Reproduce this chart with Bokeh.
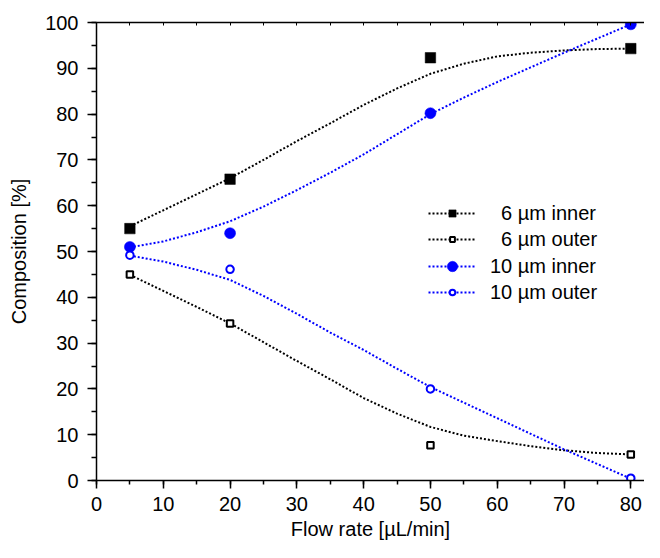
from bokeh.plotting import figure
from bokeh.models import (LinearAxis, SingleIntervalTicker, Legend, LegendItem,
                          Range1d, CustomJSTickFormatter)
from bokeh.embed import file_html
from bokeh.resources import INLINE

# ---- data ----
flow = [5, 20, 50, 80]
inner6 = [55.0, 65.8, 92.3, 94.3]
outer6 = [45.0, 34.3, 7.7, 5.7]
inner10 = [51.0, 54.0, 80.2, 99.6]
outer10 = [49.2, 46.1, 20.0, 0.5]

# fitted curves
fit_x = [5, 10, 15, 20, 25, 30, 35, 40, 45, 50, 55, 60, 65, 70, 75, 80]
fit_inner6 = [55.5, 59.0, 62.5, 66.0, 70.0, 74.1, 78.0, 82.0, 85.6, 88.8,
              91.0, 92.6, 93.4, 93.9, 94.2, 94.3]
fit_outer6 = [44.9, 41.4, 37.9, 34.3, 30.2, 26.1, 22.1, 18.0, 14.6, 11.7,
              9.8, 8.6, 7.5, 6.6, 6.0, 5.7]
fit_inner10 = [50.9, 52.2, 54.2, 56.6, 59.8, 63.4, 67.2, 71.2, 75.6, 80.0,
               83.6, 87.0, 90.2, 93.4, 96.5, 99.6]
fit_outer10 = [49.1, 47.8, 46.0, 43.8, 40.3, 36.4, 32.3, 28.5, 24.4, 20.4,
               17.0, 13.6, 10.2, 6.8, 3.6, 0.4]

labels = ["\u00a0\u00a06 µm inner", "\u00a0\u00a06 µm outer", "10 µm inner", "10 µm outer"]

FONT = "Liberation Sans"
BLUE = "#0000ff"

p = figure(width=644, height=542, output_backend="svg", toolbar_location=None,
           x_range=Range1d(0, 82.05), y_range=Range1d(0, 100),
           min_border_left=96, min_border_right=0, min_border_top=22,
           min_border_bottom=62, x_axis_label="Flow rate [µL/min]",
           y_axis_label="Composition [%]")
p.grid.visible = False
p.outline_line_color = None
p.background_fill_color = "white"
p.border_fill_color = "white"

for ax in (p.xaxis[0], p.yaxis[0]):
    ax.axis_line_color = "black"
    ax.axis_line_width = 1.5
    ax.major_tick_line_color = "black"
    ax.minor_tick_line_color = "black"
    ax.major_tick_line_width = 1.5
    ax.minor_tick_line_width = 1.5
    ax.major_tick_in = 0
    ax.minor_tick_in = 0
    ax.major_label_text_font = FONT
    ax.major_label_text_font_size = "20px"
    ax.major_label_text_color = "black"
    ax.axis_label_text_font = FONT
    ax.axis_label_text_font_size = "20px"
    ax.axis_label_text_font_style = "normal"
    ax.axis_label_text_color = "black"

p.xaxis[0].ticker = SingleIntervalTicker(interval=10, num_minor_ticks=2)
p.yaxis[0].ticker = SingleIntervalTicker(interval=10, num_minor_ticks=2)
p.xaxis[0].major_tick_out = 8
p.xaxis[0].minor_tick_out = 4
p.yaxis[0].major_tick_out = 9
p.yaxis[0].minor_tick_out = 5
p.xaxis[0].major_label_standoff = 8
p.xaxis[0].axis_label_standoff = 4
p.yaxis[0].major_label_standoff = 9
p.yaxis[0].axis_label_standoff = 12

top = LinearAxis(ticker=SingleIntervalTicker(interval=5, num_minor_ticks=0),
                 formatter=CustomJSTickFormatter(code="return ''"),
                 major_tick_in=3, major_tick_out=0, minor_tick_in=0, minor_tick_out=0,
                 major_label_text_font_size="1px", major_label_standoff=0,
                 axis_line_color="black", axis_line_width=1.5,
                 major_tick_line_color="black")
p.add_layout(top, "above")

l1 = p.line(fit_x, fit_inner6, line_color="black", line_width=2, line_dash="2 2")
l2 = p.line(fit_x, fit_outer6, line_color="black", line_width=2, line_dash="2 2")
l3 = p.line(fit_x, fit_inner10, line_color=BLUE, line_width=2, line_dash="2 2")
l4 = p.line(fit_x, fit_outer10, line_color=BLUE, line_width=2, line_dash="2 2")

s1 = p.scatter(flow, inner6, marker="square", size=10.5, fill_color="black",
               line_color="black", line_width=0.5)
s2 = p.scatter(flow, outer6, marker="square", size=6.5, fill_color="white",
               line_color="black", line_width=2)
s3 = p.scatter(flow, inner10, marker="circle", size=11, fill_color=BLUE,
               line_color=BLUE, line_width=0.5)
s4 = p.scatter(flow, outer10, marker="circle", size=7.5, fill_color="white",
               line_color=BLUE, line_width=2)

# one legend per entry so that each marker sample can have its own size
entries = [(labels[0], [l1, s1], 18, 254),
           (labels[1], [l2, s2], 12, 228),
           (labels[2], [l3, s3], 26, 201),
           (labels[3], [l4, s4], 14, 175)]
for lab, rends, gh, yb in entries:
    lg = Legend(items=[LegendItem(label=lab, renderers=rends)],
                location=(332, yb), orientation="vertical")
    lg.glyph_width = 48
    lg.glyph_height = gh
    lg.label_height = 26
    lg.spacing = 0
    lg.padding = 0
    lg.margin = 0
    lg.label_standoff = 14
    lg.border_line_color = None
    lg.background_fill_alpha = 0
    lg.label_text_font = FONT
    lg.label_text_font_size = "20px"
    lg.label_text_color = "black"
    p.add_layout(lg, "center")

open("out.html", "w").write(file_html(p, INLINE))
